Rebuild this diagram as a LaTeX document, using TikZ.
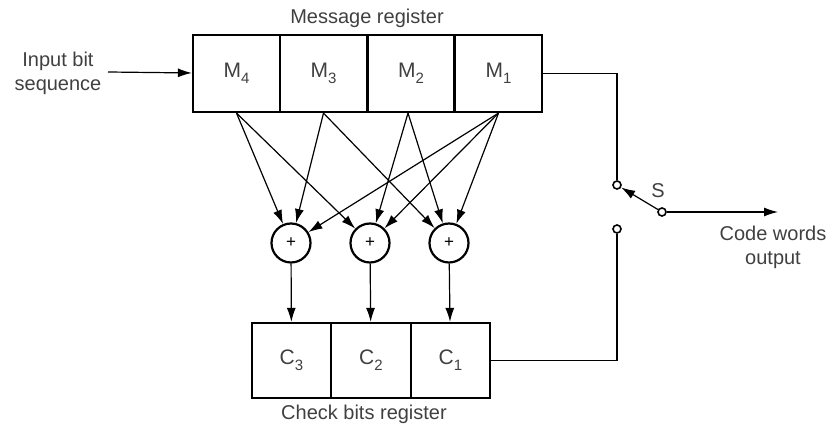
\documentclass[tikz,border=0pt]{standalone}
\usepackage{fontspec}
\setmainfont{Liberation Sans}
\usetikzlibrary{arrows.meta}
\newcommand{\regsub}[1]{\raisebox{-0.55ex}{\fontsize{7.5}{8}\selectfont#1}}
\begin{document}
\begin{tikzpicture}[
    x=0.5pt, y=-0.5pt,
    >={Latex[length=7pt,width=4.5pt]},
    font=\fontsize{10}{12}\selectfont,
    mcell/.style={draw, line width=1.1pt, minimum width=43.5pt, minimum height=38.5pt,
      inner sep=0pt, text=black!75, font=\fontsize{10.5}{12}\selectfont},
    ccell/.style={mcell, minimum width=39.75pt, minimum height=37.5pt},
    xorsum/.style={draw, circle, line width=1.1pt, minimum size=19.5pt, inner sep=0pt,
      font=\fontsize{8.5}{8.5}\selectfont},
    term/.style={draw, circle, line width=0.8pt, minimum size=4pt, inner sep=0pt},
    lbl/.style={text=black!75, align=center},
    arr/.style={->, line width=0.6pt},
    wire/.style={line width=0.6pt},
  ]
  \useasboundingbox (0,0) rectangle (836,432);

  % message register
  \node[lbl] (mreg) at (367,18) {Message register};
  \node[mcell] (m4) at (236.5,73.5) {M\regsub{4}};
  \node[mcell] (m3) at (323.5,73.5) {M\regsub{3}};
  \node[mcell] (m2) at (411,73.5) {M\regsub{2}};
  \node[mcell] (m1) at (498.5,73.5) {M\regsub{1}};

  \node[lbl] (inlbl) at (58,73) {Input bit\\sequence};
  \coordinate (in) at (108,72);
  \draw[arr] (in) -- (m4);

  % modulo-2 adders
  \node[xorsum] (x1) at (291,243) {+};
  \node[xorsum] (x2) at (370,243) {+};
  \node[xorsum] (x3) at (449,243) {+};

  \draw[arr] (m4.south) -- (x1);
  \draw[arr] (m4.south) -- (x2);
  \draw[arr] (m3.south) -- (x1);
  \draw[arr] (m3.south) -- (x3);
  \draw[arr] ([xshift=-1.5pt]m2.south) -- (x2);
  \draw[arr] ([xshift=-1.5pt]m2.south) -- (x3);
  \draw[arr] (m1.south) -- (x1);
  \draw[arr] (m1.south) -- (x2);
  \draw[arr] (m1.south) -- (x3);

  % check bits register
  \node[ccell] (c3) at (291.5,360.5) {C\regsub{3}};
  \node[ccell] (c2) at (371,360.5) {C\regsub{2}};
  \node[ccell] (c1) at (450.5,360.5) {C\regsub{1}};
  \node[lbl] (creg) at (364,414) {Check bits register};

  \draw[arr] (x1) -- (c3);
  \draw[arr] (x2) -- (c2);
  \draw[arr] (x3) -- (c1);

  % switch S
  \node[term] (t1) at (617,185) {};
  \node[term] (t2) at (617,229) {};
  \node[term] (pv) at (662,212) {};
  \node[lbl] (s) at (658,191) {S};
  \coordinate (out) at (778,212);
  \node[lbl] (outlbl) at (773,247) {Code words\\output};

  \draw[wire] (m1.east) -| (t1);
  \draw[wire] (t2) |- (c1.east);
  \draw[arr] (pv) -- (t1);
  \draw[arr] (pv) -- (out);

\end{tikzpicture}
\end{document}
